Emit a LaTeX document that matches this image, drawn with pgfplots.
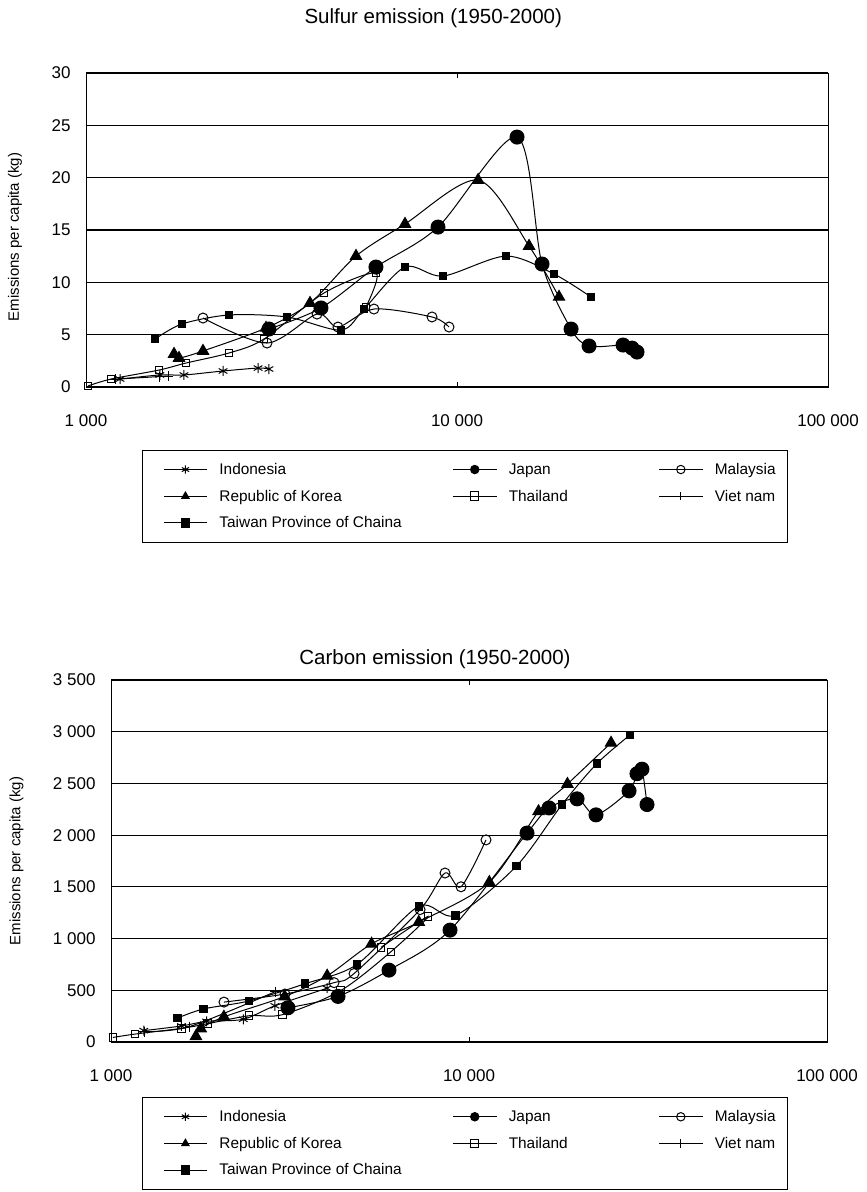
\documentclass[border=0pt]{standalone}
\usepackage{fontspec}
\setmainfont{Liberation Sans}
\usepackage{pgfplots}
\pgfplotsset{compat=1.18}

\tikzset{
  ind/.style={mark=asterisk, mark size=5pt},
  jap/.style={mark=*, mark size=7pt},
  mal/.style={mark=o, mark size=5pt, mark options={fill=white}},
  kor/.style={mark=triangle*, mark size=6.5pt},
  tha/.style={mark=square, mark size=3.8pt, mark options={fill=white}},
  vie/.style={mark=+, mark size=5pt},
  tai/.style={mark=square*, mark size=3.8pt},
}
\pgfplotsset{
  every axis/.append style={
    scale only axis, xmin=1000, xmax=100000,
    xtick={1000,10000,100000}, xticklabels={1 000,10 000,100 000},
    ymajorgrids, grid style={black, line width=1.1pt},
    axis line style={black, line width=1pt},
    tick align=inside, major tick length=5pt, minor tick length=0pt,
    ytick style={draw=none}, xtick style={black, line width=0.8pt},
    tick label style={font=\fontsize{17}{20}\selectfont},
    xticklabel style={yshift=-24pt},
    yticklabel style={xshift=-12pt},
    title style={font=\fontsize{20.5}{24}\selectfont, anchor=center},
    legend columns=3, legend cell align=left,
    legend style={draw=black, line width=0.8pt, anchor=north west,
      font=\fontsize{15.4}{18}\selectfont, inner xsep=10pt, inner ysep=11pt, row sep=10pt,
      /tikz/every odd column/.style={column sep=10pt},
      /tikz/column 2/.style={column sep=38pt},
      /tikz/column 4/.style={column sep=78pt}},
    legend image post style={mark size=4.2pt},
  },
  every axis plot/.append style={black, line width=1pt, smooth, tension=0.5},
  legend image code/.code={\path (0pt,0pt);\draw[mark repeat=2,mark phase=2,#1]
      plot coordinates {(11pt,0pt)(32.5pt,0pt)(54pt,0pt)};},
}

\begin{document}
\begin{tikzpicture}
\path[use as bounding box] (0,0) rectangle (867pt,-1192pt);

% Sulfur
\begin{semilogxaxis}[at={(86pt,-387pt)}, anchor=south west,
  width=742pt, height=314pt, ymin=0, ymax=30, ytick={0,5,...,30},
  yticklabels={0,5,10,15,20,25,30},
  title={Sulfur emission (1950-2000)},
  title style={at={(axis description cs:0.468,1.156)}},
  ylabel={Emissions per capita (kg)},
  every axis y label/.style={at={(axis description cs:-0.0957,0.478)}, rotate=90, anchor=center, font=\fontsize{15}{18}\selectfont},
  legend style={at={(axis description cs:0.0755,-0.2)}},
]
\addplot[ind] coordinates {(1235,0.76)(1582,1.15)(1837,1.15)(2341,1.53)(2909,1.81)(3113,1.72)};
\addplot[jap] coordinates {(3113,5.54)(4299,7.55)(6047,11.46)(8887,15.28)(14512,23.88)(16950,11.75)(20297,5.54)(22690,3.92)(28022,4.01)(29628,3.72)(30564,3.34)};
\addplot[mal] coordinates {(2067,6.59)(3075,4.20)(4195,6.97)(4777,5.73)(5973,7.45)(8563,6.69)(9515,5.73)};
\addplot[kor] coordinates {(1727,3.15)(1781,2.77)(2067,3.44)(3056,5.64)(4016,8.02)(5343,12.51)(7241,15.57)(11396,19.77)(15638,13.47)(18836,8.60)};
\addplot[tha] coordinates {(1012,0.1)(1168,0.76)(1573,1.62)(1860,2.29)(2429,3.25)(3018,4.58)(4381,8.98)(6047,10.89)(5683,7.64)};
\addplot[vie] coordinates {(1200,0.75)(1580,1.0)(1664,1.05)};
\addplot[tai] coordinates {(1535,4.58)(1814,6.02)(2429,6.88)(3481,6.69)(4868,5.44)(5615,7.45)(7241,11.46)(9168,10.60)(13556,12.51)(18262,10.79)(22970,8.60)};
\legend{Indonesia,Japan,Malaysia,Republic of Korea,Thailand,Viet nam,Taiwan Province of Chaina}
\end{semilogxaxis}

% Carbon
\begin{semilogxaxis}[at={(111pt,-1042pt)}, anchor=south west,
  width=716pt, height=362pt, ymin=0, ymax=3500, ytick={0,500,...,3500},
  yticklabels={0,500,1 000,1 500,2 000,2 500,3 000,3 500},
  title={Carbon emission (1950-2000)},
  title style={at={(axis description cs:0.4525,1.042)}},
  ylabel={Emissions per capita (kg)},
  every axis y label/.style={at={(axis description cs:-0.132,0.5)}, rotate=90, anchor=center, font=\fontsize{15}{18}\selectfont},
  legend style={at={(axis description cs:0.0433,-0.152)}},
]
\addplot[ind] coordinates {(1235,110)(1573,155)(1850,200)(2341,220)(2870,350)(4012,520)};
\addplot[jap] coordinates {(3120,331)(4306,441)(5977,695)(8850,1082)(14521,2020)(16730,2263)(20036,2351)(22630,2196)(27990,2428)(29460,2594)(30420,2638)(31420,2296)};
\addplot[mal] coordinates {(2068,386)(3062,464)(4198,574)(4773,662)(7300,1280)(8570,1634)(9500,1501)(11155,1954)};
\addplot[kor] coordinates {(1727,55)(1781,130)(2067,243)(3056,440)(4016,640)(5343,949)(7241,1159)(11396,1545)(15638,2230)(18836,2494)(24930,2892)};
\addplot[tha] coordinates {(1012,44)(1168,77)(1573,132)(1860,177)(2429,254)(3018,265)(4381,497)(6047,872)(7686,1214)(5683,916)};
\addplot[vie] coordinates {(1240,100)(1660,150)(2872,486)};
\addplot[tai] coordinates {(1535,232)(1814,320)(2429,397)(3481,563)(4868,751)(7241,1313)(9168,1225)(13556,1700)(18197,2296)(22780,2693)(28170,2969)};
\legend{Indonesia,Japan,Malaysia,Republic of Korea,Thailand,Viet nam,Taiwan Province of Chaina}
\end{semilogxaxis}
\end{tikzpicture}
\end{document}
